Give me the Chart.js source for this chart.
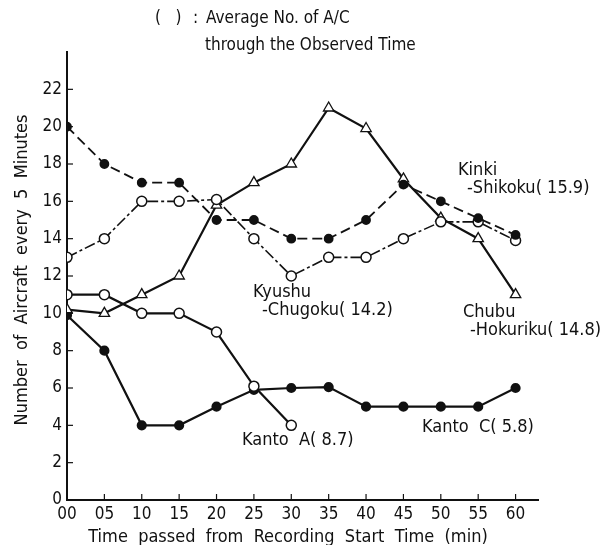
<!DOCTYPE html>
<html>
<head>
<meta charset="utf-8">
<script src="https://cdn.jsdelivr.net/npm/chart.js@4/dist/chart.umd.min.js"></script>
<style>
  html, body { margin: 0; padding: 0; background: #fff; }
  #wrap { width: 602px; height: 545px; }
</style>
</head>
<body>
<div id="wrap"><canvas id="chart" width="602" height="545"></canvas></div>
<script>
const FONT = "'Liberation Sans Narrow', 'DejaVu Sans Condensed', sans-serif";

// minutes from recording start
const times = [0, 5, 10, 15, 20, 25, 30, 35, 40, 45, 50, 55, 60];
const yTicks = [0, 2, 4, 6, 8, 10, 12, 14, 16, 18, 20, 22];

// aircraft every 5 minutes
const kinkiShikoku   = [20, 18, 17, 17, 15, 15, 14, 14, 15, 16.9, 16, 15.1, 14.2];
const kyushuChugoku  = [13, 14, 16, 16, 16.1, 14, 12, 13, 13, 14, 14.9, 14.9, 13.9];
const chubuHokuriku  = [10.2, 10, 11, 12, 15.8, 17, 18, 21, 19.9, 17.2, 15.1, 14, 11];
const kantoA         = [11, 11, 10, 10, 9, 6.1, 4];
const kantoC         = [9.9, 8, 4, 4, 5, 5.9, 6, 6.05, 5, 5, 5, 5, 6];

const toPts = arr => arr.map((v, i) => ({ x: times[i], y: v }));

// labels written next to the lines
const notes = [
  { text: "Kinki", x: 458, y: 170 },
  { text: "-Shikoku( 15.9)", x: 467, y: 188 },
  { text: "Kyushu", x: 253, y: 292 },
  { text: "-Chugoku( 14.2)", x: 262, y: 310 },
  { text: "Chubu", x: 463, y: 312 },
  { text: "-Hokuriku( 14.8)", x: 470, y: 330 },
  { text: "Kanto  A( 8.7)", x: 242, y: 440 },
  { text: "Kanto  C( 5.8)", x: 422, y: 427 }
];

const textPlugin = {
  id: "texts",
  afterDraw(chart) {
    const ctx = chart.ctx;
    const xs = chart.scales.x, ys = chart.scales.y;
    ctx.save();
    ctx.strokeStyle = "#111";
    ctx.lineWidth = 1.2;
    // inward tick marks
    times.forEach(t => {
      const px = xs.getPixelForValue(t);
      ctx.beginPath(); ctx.moveTo(px, ys.bottom); ctx.lineTo(px, ys.bottom - 6); ctx.stroke();
    });
    yTicks.forEach(v => {
      const py = ys.getPixelForValue(v);
      ctx.beginPath(); ctx.moveTo(xs.left, py); ctx.lineTo(xs.left + 6, py); ctx.stroke();
    });

    ctx.fillStyle = "#111";
    ctx.textBaseline = "middle";
    ctx.textAlign = "left";
    ctx.font = "17px " + FONT;
    ctx.fillText("(   )", 155, 19);
    ctx.fillText(":", 193, 19);
    ctx.fillText("Average No. of A/C", 206, 19);
    ctx.fillText("through the Observed Time", 205, 46);

    ctx.font = "18px " + FONT;
    notes.forEach(n => ctx.fillText(n.text, n.x, n.y));

    ctx.textAlign = "center";
    ctx.fillText("Time  passed  from  Recording  Start  Time  (min)", 288, 537);
    ctx.translate(22, 270);
    ctx.rotate(-Math.PI / 2);
    ctx.fillText("Number  of  Aircraft  every  5  Minutes", 0, 0);
    ctx.restore();
  }
};

const filled = { pointStyle: "circle", pointRadius: 4, pointBackgroundColor: "#111", pointBorderColor: "#111" };
const hollow = { pointStyle: "circle", pointRadius: 5, pointBackgroundColor: "#fff", pointBorderColor: "#111", pointBorderWidth: 1.5 };
const tri    = { pointStyle: "triangle", pointRadius: 6, pointBackgroundColor: "#fff", pointBorderColor: "#111", pointBorderWidth: 1.3 };

new Chart(document.getElementById("chart"), {
  type: "line",
  data: {
    datasets: [
      Object.assign({ label: "Kinki-Shikoku", data: toPts(kinkiShikoku), borderDash: [10, 5], borderWidth: 1.8 }, filled),
      Object.assign({ label: "Kyushu-Chugoku", data: toPts(kyushuChugoku), borderDash: [11, 3, 3, 3], borderWidth: 1.6 }, hollow),
      Object.assign({ label: "Chubu-Hokuriku", data: toPts(chubuHokuriku), borderWidth: 2.2 }, tri),
      Object.assign({ label: "Kanto A", data: toPts(kantoA), borderWidth: 2.2 }, hollow),
      Object.assign({ label: "Kanto C", data: toPts(kantoC), borderWidth: 2.2 }, filled)
    ].map(d => Object.assign(d, { borderColor: "#111", tension: 0, fill: false }))
  },
  options: {
    responsive: false,
    animation: false,
    layout: { padding: { top: 52, right: 64, left: 0, bottom: 0 } },
    plugins: { legend: { display: false }, tooltip: { enabled: false } },
    scales: {
      x: {
        type: "linear",
        min: 0,
        max: 63,
        grid: { display: false, drawTicks: false },
        border: { display: true, color: "#111", width: 2 },
        afterBuildTicks: s => { s.ticks = times.map(v => ({ value: v })); },
        afterFit: s => { s.height = 45; },
        ticks: {
          padding: 4,
          color: "#111",
          font: { family: FONT, size: 17 },
          maxRotation: 0,
          callback: v => String(v).padStart(2, "0")
        }
      },
      y: {
        min: 0,
        max: 24,
        grid: { display: false, drawTicks: false },
        border: { display: true, color: "#111", width: 2 },
        afterBuildTicks: s => { s.ticks = yTicks.map(v => ({ value: v })); },
        afterFit: s => { s.width = 67; },
        ticks: {
          padding: 5,
          color: "#111",
          font: { family: FONT, size: 17 }
        }
      }
    }
  },
  plugins: [textPlugin]
});
</script>
</body>
</html>
